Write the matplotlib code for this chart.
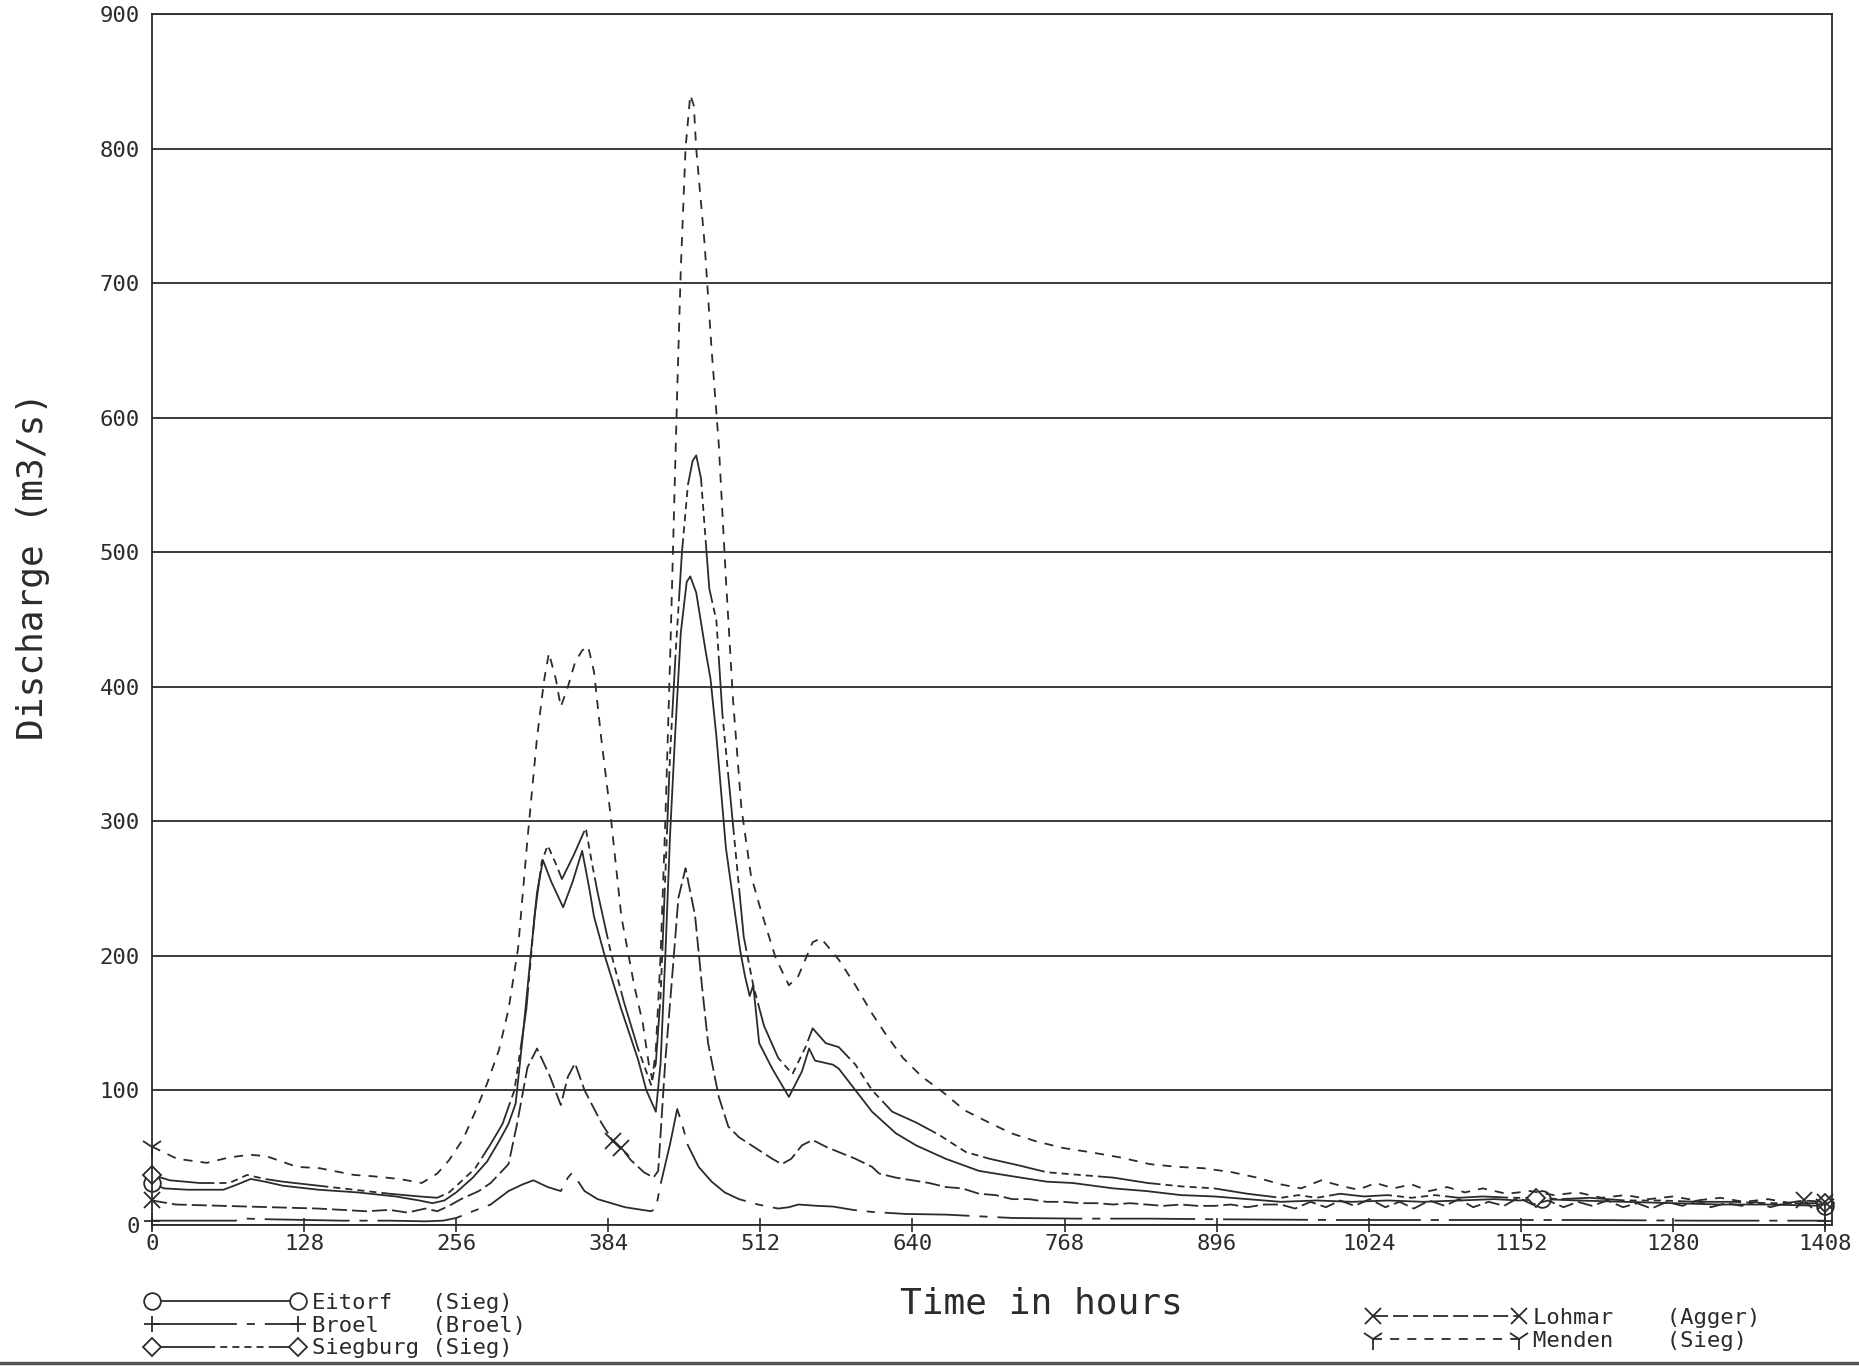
import matplotlib
matplotlib.use("Agg")
import matplotlib.pyplot as plt
from matplotlib.lines import Line2D

# ---- data ----
eitorf_t = [0, 10, 30, 60, 72, 83, 95, 110, 140, 173, 205, 225, 236, 246, 256, 270, 282, 292, 300, 306,
            312, 319, 324, 329, 336, 346, 354, 362, 368, 372, 381, 395, 409, 416, 424, 428, 432, 436, 440,
            445, 450, 453, 458, 466, 470, 475, 483, 495, 499, 503, 506, 511, 522, 536, 547, 553, 558, 573,
            578, 592, 606, 626, 643, 668, 696, 724, 753, 775, 809, 837, 866, 894, 922, 950, 980, 1010,
            1040, 1070, 1100, 1130, 1150, 1170, 1200, 1240, 1280, 1320, 1360, 1408]
eitorf_q = [31, 27, 26, 26, 30, 34, 32, 29, 26, 24, 21, 18, 16, 18, 24, 35, 47, 62, 75, 90,
            140, 203, 247, 271, 255, 236, 255, 278, 250, 229, 200, 160, 123, 100, 84, 120, 200, 290, 360,
            440, 478, 482, 470, 426, 406, 363, 280, 204, 185, 170, 178, 135, 116, 95, 114, 131, 122, 119,
            116, 100, 84, 68, 59, 49, 40, 36, 32, 31, 27, 25, 22, 21, 19, 17, 18, 17,
            18, 17, 18, 19, 18, 19, 18, 17, 16, 15, 15, 14]

broel_t = [0, 40, 70, 80, 100, 130, 160, 200, 230, 245, 256, 270, 285, 300, 312, 321, 333, 344, 350, 353,
           358, 364, 375, 398, 420, 424, 428, 436, 442, 446, 451, 460, 471, 482, 494, 510, 527, 536, 544,
           560, 573, 590, 606, 634, 668, 724, 781, 840, 900, 1000, 1100, 1200, 1300, 1408]
broel_q = [3, 3, 3, 4.5, 4, 3.5, 3, 3, 2.5, 3, 5, 10, 15, 25, 30, 33, 28, 25, 35, 38,
           33, 25, 19, 13, 10, 12, 30, 60, 86, 75, 59, 43, 32, 24, 19, 15, 12, 13, 15,
           14, 13.5, 11, 9.5, 8, 7.5, 5, 4.5, 4.5, 4, 3.5, 3.5, 3.5, 3, 3]

siegburg_t = [0, 15, 40, 65, 80, 95, 110, 140, 170, 200, 225, 240, 250, 260, 272, 285, 295, 305, 315, 322,
              328, 333, 340, 345, 355, 365, 370, 375, 386, 397, 409, 420, 424, 428, 432, 436, 441, 446,
              451, 455, 458, 462, 469, 475, 480, 489, 498, 506, 515, 527, 539, 550, 556, 567, 578, 592,
              606, 623, 643, 662, 685, 705, 730, 753, 781, 809, 838, 866, 894, 922, 950, 965, 980, 1000,
              1020, 1040, 1060, 1080, 1100, 1120, 1145, 1165, 1185, 1210, 1240, 1270, 1300, 1330, 1360, 1408]
siegburg_q = [37, 33, 31, 31, 37, 34, 32, 29, 26, 23, 21, 20, 24, 32, 42, 60, 75, 100, 160, 230,
              270, 282, 268, 257, 275, 295, 270, 247, 203, 166, 131, 104, 120, 170, 260, 350, 430, 500,
              550, 568, 572, 555, 473, 449, 380, 297, 214, 178, 148, 124, 112, 132, 146, 135, 132, 119,
              100, 84, 76, 67, 54, 49, 44, 39, 37, 35, 31, 28.5, 27, 23, 20, 22, 20, 23,
              21, 22, 20, 22, 20, 21, 20, 20, 19, 20, 18, 18, 17, 17, 16, 16]

lohmar_t = [0, 20, 60, 100, 140, 180, 200, 215, 230, 240, 250, 260, 275, 285, 300, 307, 316, 324, 335, 344,
            350, 356, 364, 378, 388, 395, 403, 414, 422, 426, 432, 437, 443, 449, 457, 463, 468, 477, 485,
            494, 508, 522, 530, 538, 547, 556, 567, 578, 592, 606, 612, 626, 640, 654, 668, 682, 696, 710,
            724, 738, 753, 767, 781, 795, 809, 823, 837, 851, 866, 880, 894, 908, 922, 936, 950, 962, 975,
            988, 1000, 1012, 1025, 1038, 1050, 1062, 1075, 1088, 1100, 1112, 1125, 1138, 1150, 1162, 1175,
            1188, 1200, 1212, 1225, 1238, 1250, 1262, 1275, 1288, 1300, 1312, 1325, 1338, 1350, 1362, 1375,
            1390, 1408]
lohmar_q = [18, 15, 14, 13, 12, 10, 11, 9, 12, 10, 14, 19, 25, 31, 45, 74, 117, 131, 110, 89,
            110, 120, 100, 76, 62, 57, 48, 39, 35, 40, 122, 176, 243, 265, 230, 176, 135, 95, 73,
            65, 57, 49, 45, 49, 59, 63, 58, 54, 49, 43, 38, 35, 33, 31, 28, 27, 23, 22,
            19, 19, 17, 17, 16, 16, 15, 16, 15, 14, 15, 14, 14, 15, 13, 15, 15, 12, 17,
            13, 18, 14, 19, 13, 17, 12, 18, 14, 19, 13, 17, 14, 20, 15, 18,
            13, 17, 14, 18, 13, 16, 12, 17, 14, 18, 13, 16, 14, 17, 13, 16,
            18, 17]

menden_t = [0, 21, 46, 65, 82, 96, 122, 141, 170, 186, 208, 227, 240, 250, 262, 272, 282, 292, 300, 308,
            316, 324, 330, 334, 340, 344, 350, 356, 362, 367, 372, 378, 386, 395, 406, 413, 418, 421, 424,
            428, 432, 436, 439, 442, 445, 449, 453, 456, 458, 465, 471, 477, 483, 489, 496, 504, 512, 519,
            525, 536, 544, 556, 563, 578, 592, 606, 618, 632, 648, 665, 684, 702, 723, 744, 767, 789, 815,
            840, 863, 885, 909, 930, 950, 967, 984, 1000, 1015, 1030, 1045, 1060, 1075, 1090, 1105, 1120,
            1140, 1160, 1180, 1200, 1220, 1240, 1260, 1280, 1300, 1320, 1340, 1360, 1380, 1408]
menden_q = [58, 49, 46, 50, 52, 51, 43, 42, 37, 36, 34, 31, 38, 48, 64, 84, 105, 130, 160, 205,
            287, 362, 405, 425, 405, 385, 400, 418, 427, 430, 411, 362, 304, 229, 177, 150, 120, 108, 130,
            200, 300, 420, 520, 620, 710, 800, 840, 832, 800, 730, 650, 580, 480, 390, 310, 260, 235, 215,
            198, 178, 185, 210, 213, 197, 178, 157, 141, 124, 110, 99, 85, 77, 68, 62, 57, 54, 50,
            45, 43, 42, 39, 35, 30, 27, 33, 29, 26, 31, 27, 30, 25, 28, 24, 27,
            23, 25, 22, 24, 20, 22, 19, 21, 18, 20, 17, 19, 16, 15]

names = ["Eitorf   (Sieg)", "Broel    (Broel)", "Siegburg (Sieg)",
         "Lohmar    (Agger)", "Menden    (Sieg)"]
marks = {
    "eitorf": [0, 1170, 1408],
    "broel": [0, 1408],
    "siegburg": [0, 1165, 1408],
    "lohmar": [0, 388, 395, 1390, 1408],
    "menden": [0, 1408],
}
xticks = list(range(0, 1409, 128))
yticks = list(range(0, 901, 100))

# ---- plot ----
ink = "#2b2b2b"
mono = "DejaVu Sans Mono"
plt.rcParams["font.family"] = mono

fig = plt.figure(figsize=(18.59, 13.67), dpi=100)
ax = fig.add_axes([0.0818, 0.1041, 0.9037, 0.8855])

lw = 1.3
common = dict(color=ink, lw=lw, mfc="white", mec=ink, mew=1.3, ms=12, clip_on=False)
l1, = ax.plot(eitorf_t, eitorf_q, "-", marker="o",
              markevery=[eitorf_t.index(m) for m in marks["eitorf"]], **common)
l2, = ax.plot(broel_t, broel_q, marker="+",
              markevery=[broel_t.index(m) for m in marks["broel"]], **common)
l2.set_dashes([47, 5.5, 4.5, 5.5])
l3, = ax.plot(siegburg_t, siegburg_q, marker="D",
              markevery=[siegburg_t.index(m) for m in marks["siegburg"]], **dict(common, ms=9))
l3.set_dashes([35, 2.8, 3.9, 2.8, 3.9, 2.8, 3.9, 2.8, 3.9, 2.8])
l4, = ax.plot(lohmar_t, lohmar_q, marker="x",
              markevery=[lohmar_t.index(m) for m in marks["lohmar"]], **common)
l4.set_dashes([8.3, 2.8])
l5, = ax.plot(menden_t, menden_q, marker="1",
              markevery=[menden_t.index(m) for m in marks["menden"]], **dict(common, ms=16))
l5.set_dashes([5, 4.5])

ax.set_xlim(0, 1414)
ax.set_ylim(0, 900)
ax.set_xticks(xticks)
ax.set_yticks(yticks)
ax.tick_params(axis="x", direction="inout", length=10, width=1.2, color=ink,
               labelsize=16, pad=2, labelcolor=ink)
ax.tick_params(axis="y", length=0, labelsize=16, pad=9, labelcolor=ink)
ax.yaxis.grid(True, color=ink, lw=1.3)
ax.set_axisbelow(True)
for sp in ax.spines.values():
    sp.set_color(ink)
    sp.set_linewidth(1.3)

ax.set_ylabel("Discharge (m3/s)", fontsize=26, color=ink)
ax.yaxis.set_label_coords(-0.061, 0.544)
fig.text(1041 / 1859, 1 - 1304 / 1367, "Time in hours", fontsize=26, color=ink,
         ha="center", va="center")

leg_kw = dict(prop={"family": mono, "size": 16}, numpoints=2, frameon=False,
              handlelength=7.2, handletextpad=0.3, labelspacing=0.12,
              borderpad=0, borderaxespad=0, loc="upper left",
              bbox_transform=fig.transFigure, labelcolor=ink)
leg1 = ax.legend([l1, l2, l3], names[:3], bbox_to_anchor=(145 / 1859, 1 - 1293 / 1367), **leg_kw)
ax.add_artist(leg1)
ax.legend([l4, l5], names[3:], bbox_to_anchor=(1366 / 1859, 1 - 1308 / 1367), **leg_kw)

fig.add_artist(Line2D([0, 1], [0.003, 0.003], transform=fig.transFigure, color="#555555", lw=2.5))

fig.savefig("out.png", dpi=100, facecolor="white")
